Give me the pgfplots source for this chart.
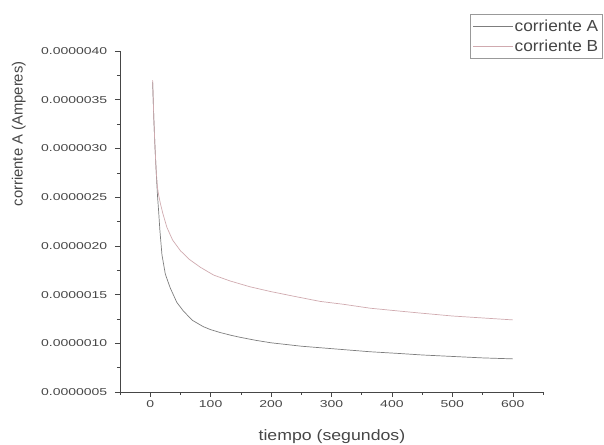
\documentclass[border=0pt]{standalone}
\usepackage{pgfplots}
\pgfplotsset{compat=1.18}
\usepackage{fontspec}
\setmainfont{Liberation Sans}
\definecolor{axc}{RGB}{70,70,70}
\definecolor{ca}{RGB}{125,125,125}
\definecolor{cb}{RGB}{208,170,175}
\begin{document}
\begin{tikzpicture}[x=1bp,y=1bp]
\useasboundingbox (-120,-53) rectangle (484,392);
\begin{axis}[
  at={(0,0)}, anchor=south west,
  scale only axis, width=423bp, height=341bp,
  xmin=-50, xmax=650, ymin=0.5e-6, ymax=4e-6,
  axis lines*=left,
  axis line style={-, axc, line width=0.6pt},
  xtick={0,100,200,300,400,500,600},
  minor xtick={-50,50,150,250,350,450,550,650},
  ytick={5e-7,1e-6,1.5e-6,2e-6,2.5e-6,3e-6,3.5e-6,4e-6},
  minor ytick={7.5e-7,1.25e-6,1.75e-6,2.25e-6,2.75e-6,3.25e-6,3.75e-6},
  tick align=outside,
  major tick length=5bp, minor tick length=3bp,
  tick style={axc, line width=0.5pt},
  scaled y ticks=false,
  /pgf/number format/assume math mode=true,
  y tick label style={/pgf/number format/fixed, /pgf/number format/fixed zerofill, /pgf/number format/precision=7, xshift=-2bp},
  tick label style={font=\fontsize{10bp}{12bp}\selectfont, xscale=1.4, text=axc},
  xlabel={tiempo (segundos)},
  ylabel={corriente A (Amperes)},
  xlabel style={at={(axis description cs:0.501,-0.132)}, anchor=center, font=\fontsize{15bp}{18bp}\selectfont, xscale=1.18, text=axc},
  ylabel style={at={(axis description cs:-0.239,0.757)}, anchor=center, font=\fontsize{14.8bp}{17bp}\selectfont, text=axc},
  legend style={at={(axis description cs:1.1395,1.1085)}, anchor=north east, draw=axc!55, font=\fontsize{16bp}{18bp}\selectfont, text=axc, inner xsep=2.5bp, inner ysep=4.5bp, row sep=5bp, nodes={inner sep=1bp, xscale=1.08}},
  legend cell align=left,
  legend image code/.code={\draw[#1] (0bp,0bp) -- (40bp,0bp);},
]
\addplot[ca, line width=0.7pt] coordinates {
(4,3.68e-6) (6,3.3e-6) (8,3.0e-6) (10,2.75e-6) (12,2.52e-6) (14,2.35e-6) (16,2.16e-6) (19.4,1.91e-6) (25,1.71e-6) (33,1.57e-6) (44,1.42e-6) (55,1.33e-6) (70,1.235e-6) (88,1.17e-6) (100,1.14e-6) (116,1.11e-6) (135,1.08e-6) (150,1.06e-6) (175,1.03e-6) (200,1.005e-6) (250,0.97e-6) (300,0.945e-6) (364,0.913e-6) (413,0.895e-6) (450,0.88e-6) (500,0.865e-6) (550,0.85e-6) (600,0.84e-6)
};
\addlegendentry{corriente A}
\addplot[cb, line width=0.7pt] coordinates {
(4,3.70e-6) (6,3.3e-6) (8,3.0e-6) (10,2.76e-6) (12,2.6e-6) (14,2.52e-6) (17,2.43e-6) (21,2.33e-6) (27.6,2.19e-6) (37,2.06e-6) (50,1.95e-6) (65,1.86e-6) (83,1.78e-6) (105,1.70e-6) (132,1.64e-6) (165,1.58e-6) (200,1.53e-6) (240,1.48e-6) (281,1.43e-6) (320,1.40e-6) (364,1.36e-6) (405,1.335e-6) (447,1.31e-6) (500,1.28e-6) (550,1.26e-6) (600,1.24e-6)
};
\addlegendentry{corriente B}
\end{axis}
\end{tikzpicture}
\end{document}
